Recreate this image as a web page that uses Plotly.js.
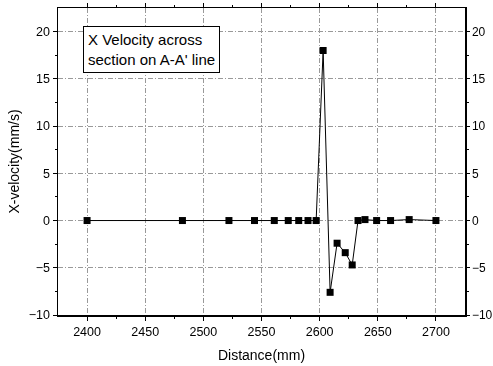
<!DOCTYPE html>
<html><head><meta charset="utf-8">
<script src="https://cdn.plot.ly/plotly-3.0.1.min.js"></script>
<style>body{margin:0;background:#fff}#c{width:493px;height:366px}</style>
</head><body><div id="c"></div>
<script>
const distance = [2400, 2482, 2522, 2544, 2561, 2573, 2582, 2590, 2597, 2603, 2609, 2615, 2622, 2628, 2633, 2639, 2649, 2661, 2677, 2700];
const xVelocity = [0, 0, 0, 0, 0, 0, 0, 0, 0, 18, -7.6, -2.4, -3.4, -4.7, 0, 0.1, 0, 0, 0.1, 0];
const yTicks = [-10, -5, 0, 5, 10, 15, 20];
const xTicks = [2400, 2450, 2500, 2550, 2600, 2650, 2700];
const boxText = "X Velocity across<br>section on A-A' line";

const font = {family: 'Liberation Sans, Arial, sans-serif', color: '#000'};

const data = [
  {x: distance, y: xVelocity, type: 'scatter', mode: 'lines+markers',
   line: {color: '#000', width: 1}, marker: {symbol: 'square', size: 7, color: '#000'}, showlegend: false},
  {x: distance, y: xVelocity, yaxis: 'y2', type: 'scatter', mode: 'markers', opacity: 0,
   hoverinfo: 'skip', showlegend: false}
];

const layout = {
  width: 493, height: 366,
  margin: {l: 58, r: 28, t: 8, b: 51},
  paper_bgcolor: '#fff', plot_bgcolor: '#fff',
  font: Object.assign({size: 13}, font),
  xaxis: {
    range: [2375, 2725], tickvals: xTicks, ticks: 'outside', ticklen: 4, tickcolor: '#000',
    showgrid: true, gridcolor: '#999', griddash: '5px,2px,1px,2px', gridwidth: 1,
    showline: true, linecolor: '#000', linewidth: 1.5, mirror: 'ticks', zeroline: false,
    minor: {tickvals: [2425, 2475, 2525, 2575, 2625, 2675], ticks: 'outside', ticklen: 2, tickcolor: '#000'},
    title: {text: 'Distance(mm)', font: Object.assign({size: 14}, font), standoff: 12},
    tickfont: Object.assign({size: 12.5}, font)
  },
  yaxis: {
    range: [-10, 22.5], tickvals: yTicks, ticks: 'outside', ticklen: 4, tickcolor: '#000',
    showgrid: true, gridcolor: '#999', griddash: '5px,2px,1px,2px', gridwidth: 1,
    showline: true, linecolor: '#000', linewidth: 1.5, zeroline: false,
    minor: {tickvals: [-7.5, -2.5, 2.5, 7.5, 12.5, 17.5], ticks: 'outside', ticklen: 2, tickcolor: '#000'},
    title: {text: 'X-velocity(mm/s)', font: Object.assign({size: 14}, font), standoff: 6},
    tickfont: Object.assign({size: 12.5}, font)
  },
  yaxis2: {
    overlaying: 'y', side: 'right', range: [-10, 22.5], tickvals: yTicks,
    ticks: 'outside', ticklen: 3, tickcolor: '#000', showgrid: false, zeroline: false,
    showline: true, linecolor: '#000', linewidth: 1.5,
    minor: {tickvals: [-7.5, -2.5, 2.5, 7.5, 12.5, 17.5], ticks: 'outside', ticklen: 2, tickcolor: '#000'},
    tickfont: Object.assign({size: 12}, font)
  },
  annotations: [{
    xref: 'paper', yref: 'paper', x: 0.062, y: 0.94, xanchor: 'left', yanchor: 'top',
    text: boxText, showarrow: false, align: 'left',
    font: Object.assign({size: 15}, font),
    bordercolor: '#000', borderwidth: 1, borderpad: 4, bgcolor: '#fff'
  }]
};

Plotly.newPlot('c', data, layout, {displayModeBar: false, staticPlot: true});
</script></body></html>
